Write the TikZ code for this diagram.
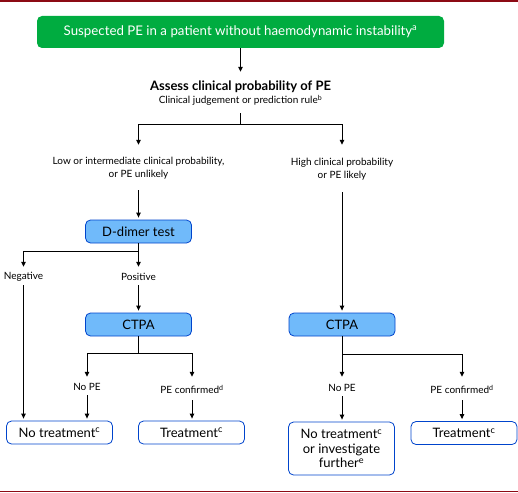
\documentclass[tikz,border=0pt]{standalone}
\usepackage{fontspec}
\setmainfont{Lato}
\usetikzlibrary{arrows.meta}
\definecolor{escgreen}{RGB}{0,172,64}
\definecolor{boxblue}{RGB}{112,186,250}
\definecolor{lineblue}{RGB}{0,68,204}
\definecolor{rulered}{RGB}{140,10,20}
\tikzset{
  arr/.style = {-{Triangle[length=5pt, width=4.5pt]}, shorten >=2pt, line width=1pt},
  link/.style = {line width=1pt},
  startbox/.style = {fill=escgreen, text=white, rounded corners=5pt, minimum width=407pt, minimum height=32pt, font=\fontsize{13.3}{15}\selectfont},
  testbox/.style = {draw=lineblue, fill=boxblue, rounded corners=5pt, minimum width=106pt, minimum height=23pt, line width=0.8pt, font=\fontsize{13}{15}\selectfont},
  endbox/.style = {draw=lineblue, fill=white, rounded corners=5pt, minimum width=106pt, minimum height=23pt, line width=0.8pt, align=center, font=\fontsize{13}{14.5}\selectfont},
  lbl/.style = {inner sep=1pt, align=center, font=\fontsize{10}{13}\selectfont}
}

\begin{document}
\begin{tikzpicture}[x=1pt, y=-1pt]
\useasboundingbox (0,0) rectangle (518,492);
\draw [rulered, line width=1.7pt] (0,0.85) -- (518,0.85);
\draw [rulered, line width=1pt] (0,491) -- (518,491);
\node [startbox] (start) at (240.5,32) {Suspected PE in a patient without haemodynamic instability\textsuperscript{a}};
\node [lbl, minimum height=39pt] (assess) at (240.5,93.5) {{\fontsize{13}{13.5}\selectfont\bfseries Assess clinical probability of PE}\\Clinical judgement or prediction rule\textsuperscript{b}};
\draw [arr] (start) -- (assess);
\coordinate (split) at (240.5,124);
\draw [link] (assess) -- (split);
\node [lbl, minimum height=43pt] (low) at (138.5,168.5) {Low or intermediate clinical probability,\\or PE unlikely};
\node [lbl, minimum height=45pt] (high) at (342,169.5) {High clinical probability\\or PE likely};
\draw [arr] (split) -| (low.north);
\draw [arr] (split) -| (high.north);
\node [testbox] (ddimer) at (138.5,231.5) {D-dimer test};
\draw [arr] (low) -- (ddimer);
\coordinate (dsplit) at (138.5,251);
\node [lbl, minimum height=16pt] (neg) at (23.5,277) {Negative};
\node [lbl, minimum height=16pt] (pos) at (138.5,277) {Positive};
\draw [link] (ddimer) -- (dsplit);
\draw [arr] (dsplit) -| (neg.north);
\draw [arr] (dsplit) -- (pos);
\node [testbox] (ctpa1) at (138.5,324.5) {CTPA};
\draw [arr] (pos) -- (ctpa1);
\coordinate (csplit1) at (138.5,353);
\node [lbl, minimum height=16pt] (nope1) at (87,387) {No PE};
\node [lbl, minimum height=21pt] (conf1) at (192,389.5) {PE confirmed\textsuperscript{d}};
\draw [link] (ctpa1) -- (csplit1);
\draw [arr] (csplit1) -| (nope1.north);
\draw [arr] (csplit1) -| (conf1.north);
\node [endbox] (nt1) at (59.5,432.5) {No treatment\textsuperscript{c}};
\node [endbox] (tr1) at (191.5,432.5) {Treatment\textsuperscript{c}};
\draw [arr] (neg) -- (neg |- nt1.north);
\draw [arr] (nope1) -- (nope1 |- nt1.north);
\draw [arr] (conf1) -- (conf1 |- tr1.north);
\node [testbox] (ctpa2) at (342,324.5) {CTPA};
\draw [arr] (high) -- (ctpa2);
\coordinate (csplit2) at (342,354);
\node [lbl, minimum height=17pt] (nope2) at (342,387.5) {No PE};
\node [lbl, minimum height=21pt] (conf2) at (462,389.5) {PE confirmed\textsuperscript{d}};
\draw [arr] (ctpa2) -- (nope2);
\draw [arr] (csplit2) -| (conf2.north);
\node [endbox, minimum height=53pt] (nt2) at (341.5,448.5) {No treatment\textsuperscript{c}\\or investigate\\further\textsuperscript{e}};
\node [endbox] (tr2) at (464,433) {Treatment\textsuperscript{c}};
\draw [arr] (nope2) -- (nope2 |- nt2.north);
\draw [arr] (conf2) -- (conf2 |- tr2.north);
\end{tikzpicture}
\end{document}
